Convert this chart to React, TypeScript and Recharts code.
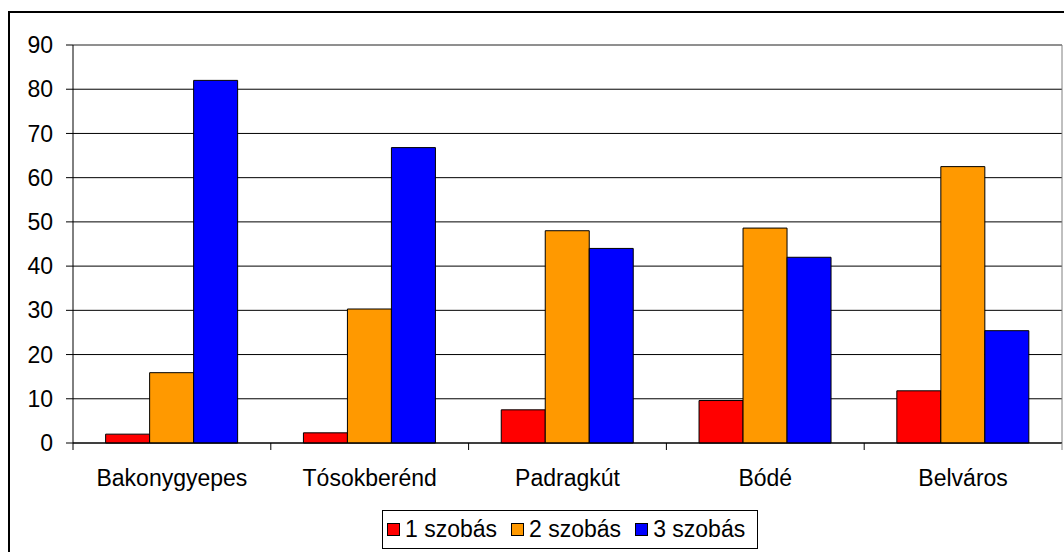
import { BarChart, Bar, XAxis, YAxis, CartesianGrid, Legend, ReferenceLine } from 'recharts'

const categories = ['Bakonygyepes', 'Tósokberénd', 'Padragkút', 'Bódé', 'Belváros']
const oneRoom = [2, 2.3, 7.5, 9.6, 11.8]
const twoRoom = [15.9, 30.3, 48, 48.6, 62.5]
const threeRoom = [82, 66.8, 44, 42, 25.4]
const yTicks = [0, 10, 20, 30, 40, 50, 60, 70, 80, 90]

const FONT = '"Liberation Sans", Arial, sans-serif'
const PLOT_LEFT = 73
const PLOT_RIGHT = 1062
const AXIS_Y = 443
const BAND = (PLOT_RIGHT - PLOT_LEFT) / categories.length

const chartData = categories.map((name, i) => ({
  name,
  one: oneRoom[i],
  two: twoRoom[i],
  three: threeRoom[i],
}))

function CategoryTick(props: any) {
  const { x, payload, index } = props
  const half = BAND / 2
  const last = index === categories.length - 1
  return (
    <g>
      <line x1={x - half} x2={x - half} y1={AXIS_Y} y2={AXIS_Y + 7} stroke="#000" />
      {last && <line x1={x + half} x2={x + half} y1={AXIS_Y} y2={AXIS_Y + 7} stroke="#808080" />}
      <text
        x={x}
        y={AXIS_Y + 27}
        dy="0.71em"
        textAnchor="middle"
        fill="#000"
        fontSize={23}
        fontFamily={FONT}
      >
        {payload.value}
      </text>
    </g>
  )
}

function LegendBox(props: any) {
  const items = props.payload || []
  return (
    <div
      style={{
        border: '1px solid #000',
        background: '#fff',
        display: 'flex',
        alignItems: 'center',
        gap: 14,
        padding: '5px 12px 5px 4px',
        fontFamily: FONT,
        fontSize: 23,
        color: '#000',
        whiteSpace: 'nowrap',
      }}
    >
      {items.map((item: any) => (
        <div key={item.value} style={{ display: 'flex', alignItems: 'center', gap: 5 }}>
          <span
            style={{
              display: 'inline-block',
              width: 11,
              height: 11,
              background: item.color,
              border: '1px solid #000',
            }}
          />
          <span>{item.value}</span>
        </div>
      ))}
    </div>
  )
}

export default function App() {
  return (
    <div style={{ position: 'absolute', left: 0, top: 0, width: 1064, height: 552, background: '#fff', overflow: 'hidden' }}>
      {/* outer frame, only top and left edges are inside the picture */}
      <div
        style={{
          position: 'absolute',
          left: 8,
          top: 11,
          width: 1100,
          height: 600,
          borderLeft: '2px solid #000',
          borderTop: '2px solid #000',
        }}
      />
      <div style={{ position: 'absolute', left: 0, top: 0 }}>
        <BarChart
          width={1064}
          height={552}
          data={chartData}
          margin={{ top: 45, right: 2, left: 0, bottom: 0 }}
          barCategoryGap="16.5%"
          barGap={0}
        >
          <CartesianGrid vertical={false} stroke="#000" strokeWidth={1} />
          <XAxis
            dataKey="name"
            height={109}
            axisLine={{ stroke: '#000' }}
            tickLine={false}
            tick={<CategoryTick />}
            interval={0}
          />
          <YAxis
            width={73}
            domain={[0, 90]}
            ticks={yTicks}
            interval={0}
            axisLine={{ stroke: '#000' }}
            tickLine={{ stroke: '#000' }}
            tickSize={7}
            tickMargin={13}
            tick={{ fill: '#000', fontSize: 23, fontFamily: FONT }}
          />
          <ReferenceLine y={90} stroke="#a0a0a0" />
          <ReferenceLine x="Belváros" position="end" stroke="#808080" />
          <Legend
            verticalAlign="middle"
            align="center"
            layout="horizontal"
            wrapperStyle={{ position: 'absolute', left: 382, top: 510, width: 'auto' }}
            content={<LegendBox />}
          />
          <Bar dataKey="one" name="1 szobás" fill="#FF0000" stroke="#000" strokeWidth={1} isAnimationActive={false} />
          <Bar dataKey="two" name="2 szobás" fill="#FF9900" stroke="#000" strokeWidth={1} isAnimationActive={false} />
          <Bar dataKey="three" name="3 szobás" fill="#0000FF" stroke="#000" strokeWidth={1} isAnimationActive={false} />
        </BarChart>
      </div>
    </div>
  )
}
